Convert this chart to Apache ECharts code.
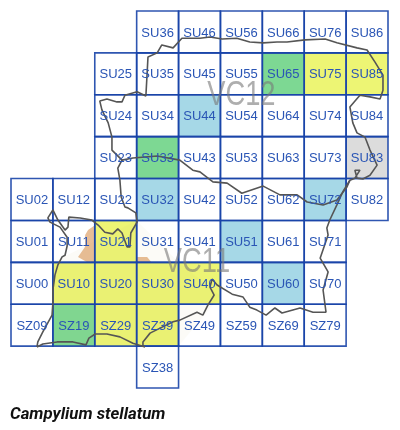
<!DOCTYPE html>
<html><head><meta charset="utf-8">
<style>html,body{margin:0;padding:0;background:#fff}#c{width:400px;height:430px}</style>
<script src="https://cdn.jsdelivr.net/npm/echarts@6/dist/echarts.min.js"></script>
</head><body><div id="c"></div>
<script>
const tiles = [
 "SU36","SU46","SU56","SU66","SU76","SU86",
 "SU25","SU35","SU45","SU55","SU65","SU75","SU85",
 "SU24","SU34","SU44","SU54","SU64","SU74","SU84",
 "SU23","SU33","SU43","SU53","SU63","SU73","SU83",
 "SU02","SU12","SU22","SU32","SU42","SU52","SU62","SU72","SU82",
 "SU01","SU11","SU21","SU31","SU41","SU51","SU61","SU71",
 "SU00","SU10","SU20","SU30","SU40","SU50","SU60","SU70",
 "SZ09","SZ19","SZ29","SZ39","SZ49","SZ59","SZ69","SZ79",
 "SZ38"];
const yellowTiles = ["SU75","SU85","SU21","SU10","SU20","SU30","SU40","SZ29","SZ39"];
const greenTiles = ["SU65","SU33","SZ19"];
const blueTiles = ["SU44","SU32","SU72","SU51","SU60"];
const greyTiles = ["SU83"];
const vcLabels = [["VC12",55.0,69.9],["VC11",44.4,30.1]];
const title = "Campylium stellatum";
const outerBoundary = [[6.2,9.8],[6.4,11.0],[7.6,13.4],[9.8,17.4],[10.0,20.3],[10.0,23.4],[10.5,27.0],[11.2,29.4],[12.2,31.3],[12.9,31.7],[13.4,33.9],[13.4,36.0],[11.7,38.4],[9.3,39.6],[8.8,40.6],[10.0,42.5],[11.2,40.1],[12.9,37.7],[13.6,38.4],[13.8,40.8],[16.5,40.6],[19.3,40.1],[20.8,38.9],[22.4,37.2],[24.3,36.8],[25.5,38.0],[26.5,37.0],[27.7,33.7],[28.4,33.7],[28.6,37.0],[30.1,39.6],[29.8,41.8],[27.9,43.0],[27.2,43.2],[26.3,45.6],[26.0,49.6],[25.5,52.5],[26.5,54.4],[24.1,56.8],[24.1,59.9],[23.2,63.3],[21.7,66.4],[21.2,68.5],[22.9,69.0],[25.3,68.3],[26.5,68.3],[27.2,69.9],[30.1,70.7],[32.2,69.7],[32.5,75.2],[32.7,79.0],[34.9,80.0],[36.0,81.9],[38.7,81.2],[40.8,83.5],[43.4,83.5],[45.1,83.5],[47.5,83.8],[50.4,83.3],[53.9,83.5],[57.0,82.6],[60.2,82.4],[63.5,82.6],[65.9,82.6],[70.2,83.1],[75.0,83.3],[77.8,82.4],[82.6,81.2],[85.0,80.7],[86.9,77.8],[88.8,74.7],[88.8,71.1],[88.1,69.0],[85.7,69.5],[83.3,69.9],[80.9,67.1],[81.6,63.3],[82.6,60.9],[84.5,59.9],[85.7,56.8],[87.4,53.2],[85.7,50.8],[84.0,49.9],[82.6,50.1],[82.1,52.0],[83.3,52.0],[82.1,50.1],[80.9,49.6],[79.2,46.8],[77.8,43.7],[76.1,40.1],[75.4,38.2],[75.7,36.5],[73.8,31.0],[75.7,27.7],[74.5,23.4],[75.2,18.1],[72.1,18.1],[69.0,19.1],[64.7,17.9],[63.0,19.1],[60.9,17.4],[58.7,18.6],[57.0,19.3],[55.4,21.7],[52.8,22.4],[49.2,24.6],[48.0,26.0],[47.5,24.1],[48.5,22.2],[47.0,19.8],[45.8,17.4],[44.4,18.1],[40.3,16.2],[38.7,15.8],[35.6,14.3],[33.2,13.1],[31.5,11.0],[31.5,10.0],[32.0,9.8],[29.1,10.7],[26.0,12.2],[22.9,12.9],[20.1,12.9],[18.6,11.9],[17.9,10.3],[14.8,11.0],[11.0,11.0],[7.6,10.5],[6.2,9.8]];
const viceCountyDivide = [[26.5,54.4],[29.1,54.9],[34.9,55.4],[40.3,54.4],[43.4,52.0],[45.1,51.6],[48.2,49.2],[51.6,48.9],[55.1,46.5],[60.2,48.2],[64.2,46.1],[68.3,46.1],[70.7,44.4],[74.5,43.7],[77.8,44.9],[80.2,48.0],[80.9,49.6]];
const chalkPatches = [
 [[20.1,38.9],[18.4,37.7],[17.7,36.5],[17.7,33.7],[16.0,31.3],[18.1,30.1],[20.1,29.8]],
 [[30.1,31.3],[32.5,31.3],[33.7,29.8],[30.1,29.8]]
];
const heathTint = [[10,30],[30,40],[40,30],[50,22],[40,10],[20,10],[10,10]];

function tileOrigin(name){
  const e = +name[2]*10, d = +name[3];
  return [e, name[1]==="U" ? 20+d*10 : (d-8)*10];
}
function fillOf(name){
  if(yellowTiles.includes(name)) return "#edf574";
  if(greenTiles.includes(name)) return "#7dd893";
  if(blueTiles.includes(name)) return "#a6d8e7";
  if(greyTiles.includes(name)) return "#dcdcdc";
  return null;
}
const tileData = tiles.map(t=>{const o=tileOrigin(t);return {value:[o[0],o[1]],name:t};});
const filled = tileData.filter(d=>fillOf(d.name));

function rectOf(api){
  const a = api.coord([api.value(0),api.value(1)+10]);
  const b = api.coord([api.value(0)+10,api.value(1)]);
  return {x:a[0],y:a[1],width:b[0]-a[0],height:b[1]-a[1]};
}
const chart = echarts.init(document.getElementById("c"),null,{renderer:"canvas"});
chart.setOption({
  animation:false,
  backgroundColor:"#fff",
  title:{text:title,left:10,top:406,padding:0,textStyle:{fontFamily:"Roboto",fontSize:16.8,fontWeight:"bold",fontStyle:"italic",color:"#111"}},
  grid:{left:11,top:11,width:377,height:377},
  xAxis:{type:"value",min:0,max:90,show:false},
  yAxis:{type:"value",min:0,max:90,show:false},
  series:[
   {type:"custom",coordinateSystem:"cartesian2d",z:1,clip:false,silent:true,
    data:chalkPatches.map((p,i)=>({value:[i]})),
    renderItem:(params,api)=>({type:"polygon",shape:{points:chalkPatches[api.value(0)].map(p=>api.coord(p))},style:{fill:"#e8bd96"}})},
   {type:"custom",coordinateSystem:"cartesian2d",z:2,clip:false,silent:true,
    data:filled,
    renderItem:(params,api)=>({type:"rect",shape:rectOf(api),style:{fill:fillOf(filled[params.dataIndex].name)}})},
   {type:"custom",coordinateSystem:"cartesian2d",z:3,clip:false,silent:true,
    data:[{value:[0]}],
    renderItem:(params,api)=>({type:"polygon",shape:{points:heathTint.map(p=>api.coord(p))},style:{fill:"rgba(200,170,100,0.05)"}})},
   {type:"custom",coordinateSystem:"cartesian2d",z:3,clip:false,silent:true,
    data:tileData,
    renderItem:(params,api)=>({type:"rect",shape:rectOf(api),style:{fill:null,stroke:"rgba(24,68,168,0.9)",lineWidth:1.6}})},
   {type:"custom",coordinateSystem:"cartesian2d",z:4,clip:false,silent:true,
    data:vcLabels.map(v=>({value:[v[1],v[2]],name:v[0]})),
    renderItem:(params,api)=>{const c=api.coord([api.value(0),api.value(1)]);
      return {type:"text",x:c[0],y:c[1],scaleX:0.78,scaleY:1,style:{text:vcLabels[params.dataIndex][0],x:0,y:0,align:"center",verticalAlign:"middle",fontFamily:"Liberation Sans",fontSize:35,fill:"rgba(120,120,120,0.6)"}};}},
   {type:"line",z:5,silent:true,symbol:"none",clip:false,data:outerBoundary,lineStyle:{color:"#555",width:1.6}},
   {type:"line",z:5,silent:true,symbol:"none",clip:false,data:viceCountyDivide,lineStyle:{color:"#555",width:1.6}},
   {type:"custom",coordinateSystem:"cartesian2d",z:6,clip:false,silent:true,
    data:tileData,
    renderItem:(params,api)=>{const r=rectOf(api);
      return {type:"text",style:{text:tileData[params.dataIndex].name,x:r.x+r.width/2,y:r.y+r.height/2+1,align:"center",verticalAlign:"middle",fontFamily:"Liberation Sans",fontSize:13,fill:"#2a55b5"}};}}
  ]
});
</script></body></html>
